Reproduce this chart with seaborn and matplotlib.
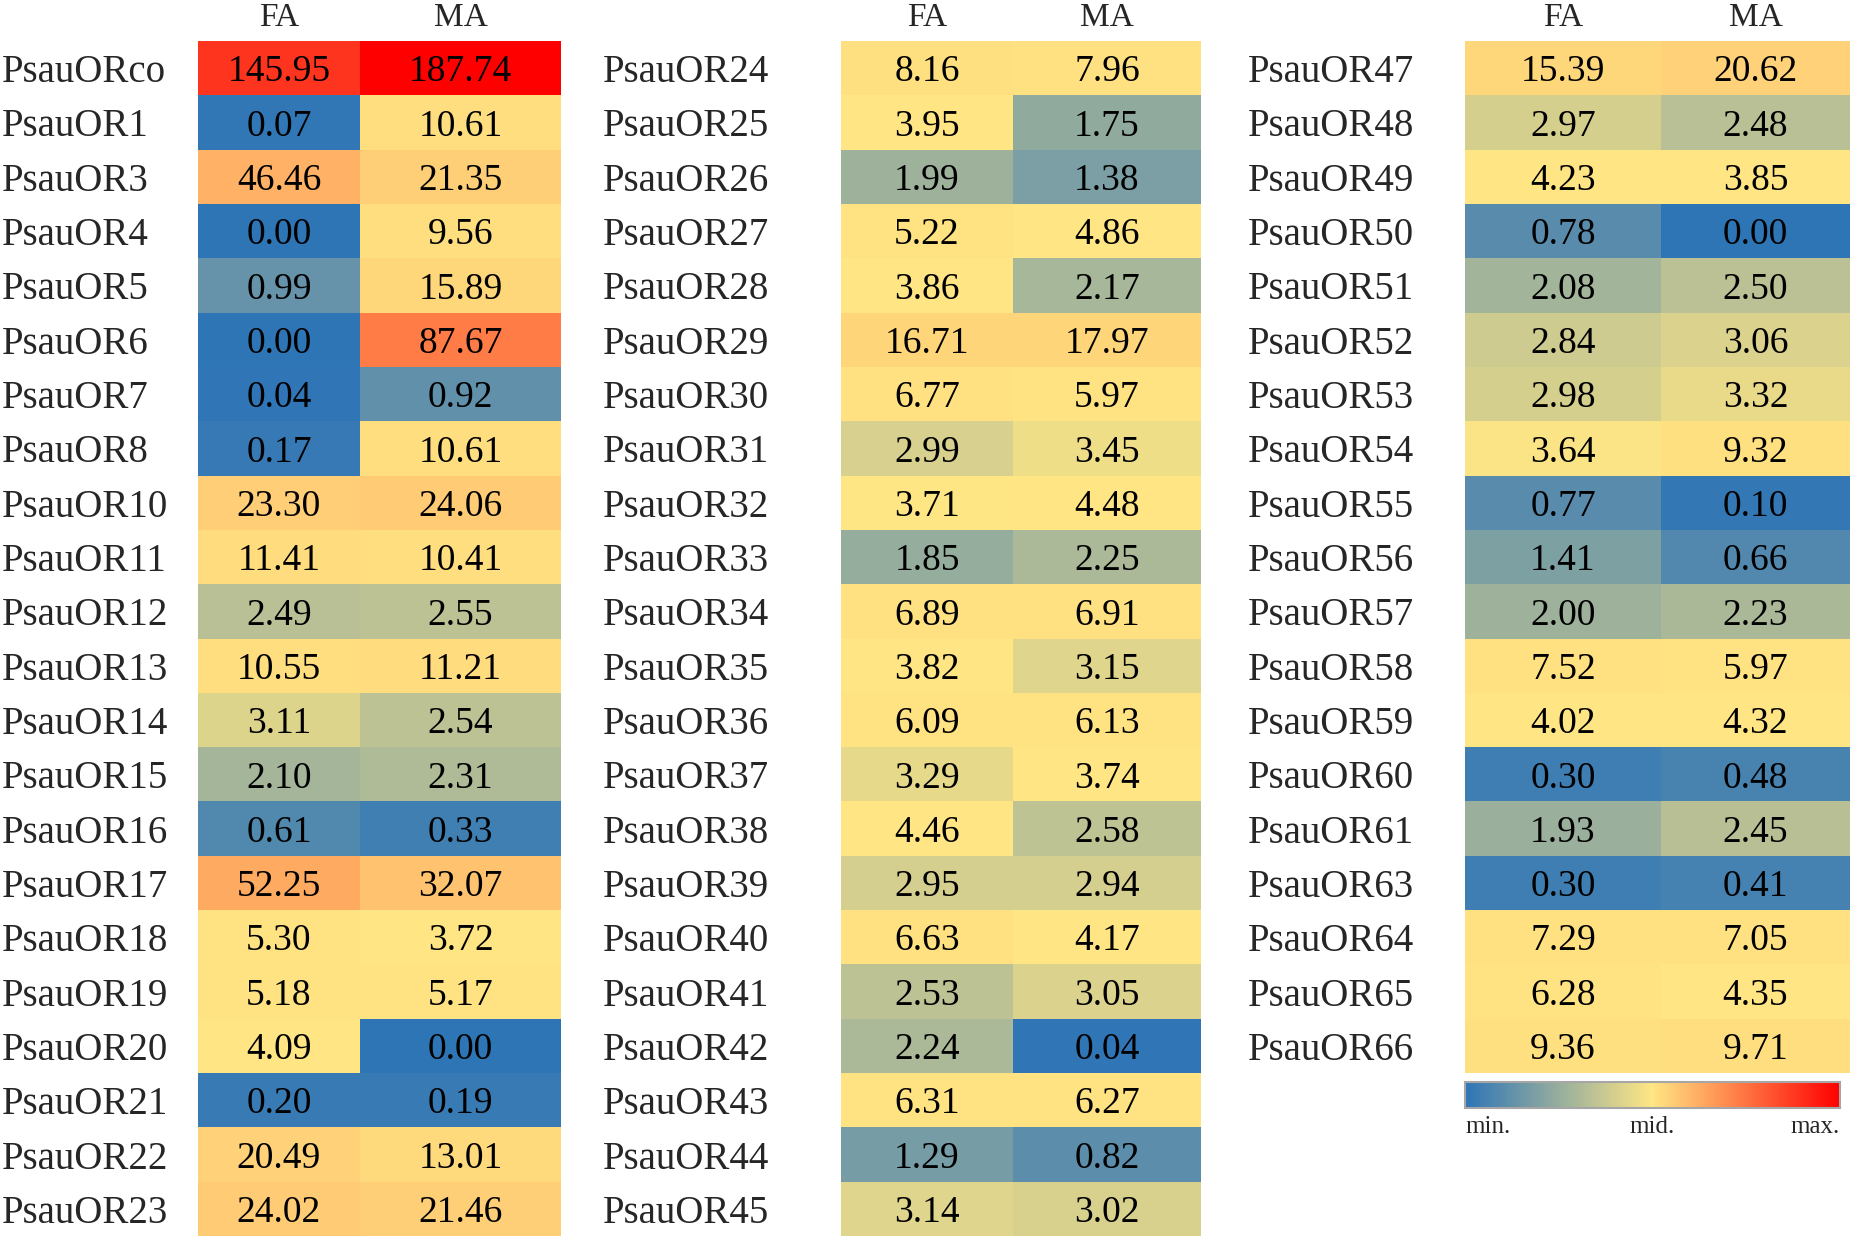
import numpy as np
import pandas as pd
import matplotlib.pyplot as plt
import seaborn as sns
from matplotlib.colors import LinearSegmentedColormap, TwoSlopeNorm

#%% data (FA / MA expression per gene)
genes_1 = ['PsauORco', 'PsauOR1', 'PsauOR3', 'PsauOR4', 'PsauOR5', 'PsauOR6',
           'PsauOR7', 'PsauOR8', 'PsauOR10', 'PsauOR11', 'PsauOR12', 'PsauOR13',
           'PsauOR14', 'PsauOR15', 'PsauOR16', 'PsauOR17', 'PsauOR18', 'PsauOR19',
           'PsauOR20', 'PsauOR21', 'PsauOR22', 'PsauOR23']
fa_1 = [145.95, 0.07, 46.46, 0.00, 0.99, 0.00, 0.04, 0.17, 23.30, 11.41, 2.49,
        10.55, 3.11, 2.10, 0.61, 52.25, 5.30, 5.18, 4.09, 0.20, 20.49, 24.02]
ma_1 = [187.74, 10.61, 21.35, 9.56, 15.89, 87.67, 0.92, 10.61, 24.06, 10.41, 2.55,
        11.21, 2.54, 2.31, 0.33, 32.07, 3.72, 5.17, 0.00, 0.19, 13.01, 21.46]

genes_2 = ['PsauOR24', 'PsauOR25', 'PsauOR26', 'PsauOR27', 'PsauOR28', 'PsauOR29',
           'PsauOR30', 'PsauOR31', 'PsauOR32', 'PsauOR33', 'PsauOR34', 'PsauOR35',
           'PsauOR36', 'PsauOR37', 'PsauOR38', 'PsauOR39', 'PsauOR40', 'PsauOR41',
           'PsauOR42', 'PsauOR43', 'PsauOR44', 'PsauOR45']
fa_2 = [8.16, 3.95, 1.99, 5.22, 3.86, 16.71, 6.77, 2.99, 3.71, 1.85, 6.89, 3.82,
        6.09, 3.29, 4.46, 2.95, 6.63, 2.53, 2.24, 6.31, 1.29, 3.14]
ma_2 = [7.96, 1.75, 1.38, 4.86, 2.17, 17.97, 5.97, 3.45, 4.48, 2.25, 6.91, 3.15,
        6.13, 3.74, 2.58, 2.94, 4.17, 3.05, 0.04, 6.27, 0.82, 3.02]

genes_3 = ['PsauOR47', 'PsauOR48', 'PsauOR49', 'PsauOR50', 'PsauOR51', 'PsauOR52',
           'PsauOR53', 'PsauOR54', 'PsauOR55', 'PsauOR56', 'PsauOR57', 'PsauOR58',
           'PsauOR59', 'PsauOR60', 'PsauOR61', 'PsauOR63', 'PsauOR64', 'PsauOR65',
           'PsauOR66']
fa_3 = [15.39, 2.97, 4.23, 0.78, 2.08, 2.84, 2.98, 3.64, 0.77, 1.41, 2.00, 7.52,
        4.02, 0.30, 1.93, 0.30, 7.29, 6.28, 9.36]
ma_3 = [20.62, 2.48, 3.85, 0.00, 2.50, 3.06, 3.32, 9.32, 0.10, 0.66, 2.23, 5.97,
        4.32, 0.48, 2.45, 0.41, 7.05, 4.35, 9.71]

cbar_labels = ['min.', 'mid.', 'max.']

#%% style
sns.set_theme(style='white')
plt.rcParams['font.family'] = ['Liberation Serif', 'DejaVu Serif']

# 3-colour scale blue -> yellow -> red, mid at the median of all values
all_vals = np.concatenate([fa_1, ma_1, fa_2, ma_2, fa_3, ma_3])
norm = TwoSlopeNorm(vmin=all_vals.min(), vcenter=np.median(all_vals),
                    vmax=all_vals.max())
cmap = LinearSegmentedColormap.from_list('bys', ['#2E75B6', '#FFE684', '#FF0000'])

W, H = 1850, 1240
fig = plt.figure(figsize=(W / 100, H / 100), dpi=100)


def px_axes(x0, x1, y0, y1):
    # axes from pixel box (origin top-left)
    return fig.add_axes([x0 / W, 1 - y1 / H, (x1 - x0) / W, (y1 - y0) / H])


top = 41
row_h = (1236 - 41) / 22

# genes, FA, MA, label x, FA left, FA/MA split, MA right
panels = [
    (genes_1, fa_1, ma_1, 2, 198, 360, 561),
    (genes_2, fa_2, ma_2, 603, 841, 1013, 1201),
    (genes_3, fa_3, ma_3, 1248, 1465, 1661, 1850),
]

cax = px_axes(1465, 1840, 1082, 1108)
cbar = None

#%% heatmaps
for p, (genes, fa, ma, lab_x, x0, x1, x2) in enumerate(panels):
    df = pd.DataFrame({'FA': fa, 'MA': ma}, index=genes)
    bottom = top + len(genes) * row_h
    for col, a, b in [('FA', x0, x1), ('MA', x1, x2)]:
        ax = px_axes(a, b, top, bottom)
        with_cbar = (p == 2 and col == 'MA')
        sns.heatmap(df[[col]], ax=ax, cmap=cmap, norm=norm, cbar=with_cbar,
                    cbar_ax=cax if with_cbar else None,
                    cbar_kws={'orientation': 'horizontal'} if with_cbar else None,
                    annot=True, fmt='.2f', xticklabels=True, yticklabels=True,
                    annot_kws={'fontsize': 27, 'color': 'black',
                               'va': 'center_baseline'})
        if with_cbar:
            cbar = ax.collections[0].colorbar
        ax.xaxis.tick_top()
        ax.tick_params(axis='x', length=0, labelsize=24, pad=6)
        ax.set_xlabel('')
        ax.set_ylabel('')
        if col == 'FA':
            ax.tick_params(axis='y', length=0, labelsize=28,
                           pad=(a - lab_x) * 0.72)
            for t in ax.get_yticklabels():
                t.set_ha('left')
                t.set_va('center_baseline')
                t.set_rotation(0)
        else:
            ax.set_yticks([])

#%% colour scale legend
cbar.set_ticks([norm.vmin, norm.vcenter, norm.vmax], labels=cbar_labels)
cbar.outline.set_linewidth(1.5)
cbar.outline.set_edgecolor('#A6A6A6')
cax.tick_params(axis='x', length=0, labelsize=18, pad=6)
for t, h in zip(cax.get_xticklabels(), ['left', 'center', 'right']):
    t.set_ha(h)

plt.savefig('out.png', dpi=100)
plt.close()
